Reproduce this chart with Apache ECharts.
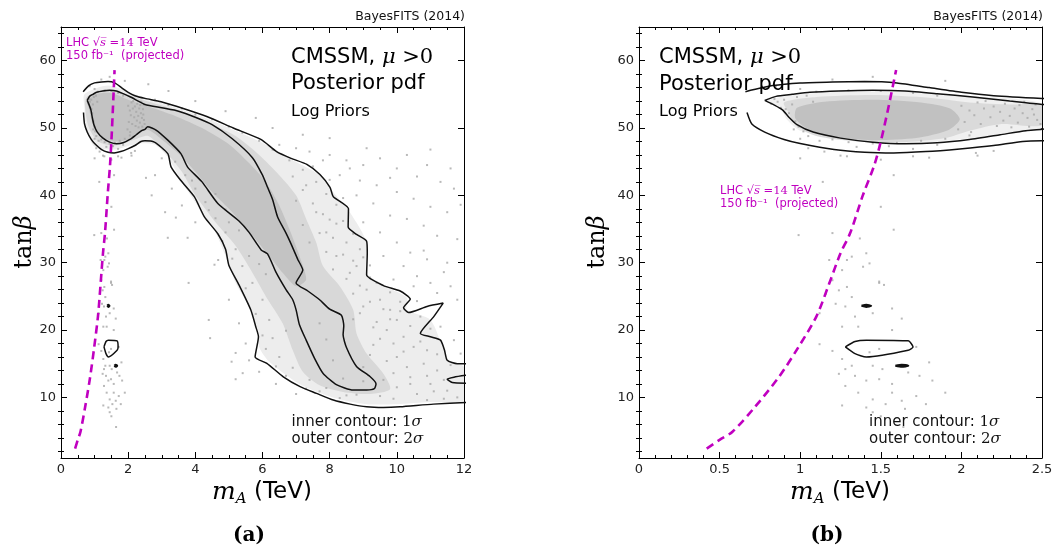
<!DOCTYPE html>
<html>
<head>
<meta charset="utf-8">
<script src="https://cdn.jsdelivr.net/npm/echarts@6/dist/echarts.min.js"></script>
<style>
  html, body { margin: 0; padding: 0; background: #fff; }
  #chart { width: 1056px; height: 550px; }
</style>
</head>
<body>
<div id="chart"></div>
<script>
// ---- axis ticks ----
const xTicksA = [0, 2, 4, 6, 8, 10, 12];
const xTicksB = [0, 0.5, 1, 1.5, 2, 2.5];
const yMajorTicks = [10, 20, 30, 40, 50, 60];
const yMinorTicks = [2, 4, 6, 8, 12, 14, 16, 18, 22, 24, 26, 28, 32, 34, 36, 38, 42, 44, 46, 48, 52, 54, 56, 58, 62, 64];

// ---- posterior samples (m_A in TeV, tan beta) ----
const posteriorSamples = [
  // around the main high-tan-beta island
  [0.82,53.6],[0.86,53.9],[0.9,54.2],[0.88,53.0],[0.95,53.5],[0.93,52.2],[0.97,51.0],[0.99,50.2],[1.02,49.5],[1.05,48.8],
  [0.98,54.6],[1.04,54.8],[1.08,53.9],[0.84,54.3],[0.91,52.8],[0.96,49.8],[1.0,48.4],[1.12,48.1],
  [2.0,53.3],[2.05,52.6],[2.08,51.9],[2.1,53.8],[2.14,52.9],[2.18,51.6],[2.2,53.2],[2.24,52.4],[2.27,53.6],[2.3,51.8],
  [2.33,52.9],[2.36,53.4],[2.38,52.2],[2.41,51.5],[2.44,52.8],[2.47,51.2],[2.49,50.6],[2.46,53.5],[2.12,50.6],[2.22,50.3],
  [2.02,50.9],[1.98,49.8],[2.15,54.0],[2.35,50.8],[2.42,50.2],[2.26,51.1],[2.39,53.9],[2.31,50.1],[2.45,52.0],[2.06,49.4],
  [1.2,48.3],[1.3,47.9],[1.45,47.7],[1.6,47.8],[1.75,48.1],[1.9,48.4],[1.35,47.2],[1.55,47.3],[1.05,47.0],[1.85,47.5],
  [1.7,46.9],[2.05,48.9],[1.15,46.5],[1.25,45.9],[1.5,45.3],[1.8,45.6],[2.1,45.9],[2.2,46.6],
  [1.1,55.4],[1.3,55.6],[1.5,55.5],[1.7,55.2],[1.85,54.8],[1.2,57.2],[1.45,57.6],[1.9,57.0],[1.0,55.8],[0.85,56.2],
  // low tan-beta tail below the island
  [1.0,45.5],[1.29,45.8],[1.58,43.0],[1.7,45.8],[2.09,46.3],[1.5,38.3],[1.58,34.9],[1.2,34.4],[1.37,33.6],[1.14,42.0],
  [0.99,34.1],[1.29,30.4],[1.39,29.4],[1.49,27.2],[1.29,26.4],[1.18,30.4],[1.26,28.9],[1.32,30.9],[1.41,31.4],[1.43,29.9],
  [1.49,27.0],[1.52,26.7],[1.2,27.4],[1.24,25.9],[1.16,25.4],[1.32,24.9],[1.22,23.9],[1.28,23.5],[1.45,22.5],[1.57,23.2],
  [1.63,21.7],[1.12,22.5],[1.34,22.0],[1.26,20.5],[1.36,20.5],[1.57,20.0],[1.12,17.9],[1.2,16.9],[1.26,15.7],[1.32,14.7],
  [1.28,14.2],[1.45,14.7],[1.51,14.2],[1.24,13.5],[1.34,13.2],[1.41,12.5],[1.49,12.7],[1.57,12.0],[1.67,13.7],[1.74,13.2],
  [1.82,12.5],[1.9,10.7],[1.36,10.7],[1.45,9.7],[1.53,9.0],[1.63,9.5],[1.72,10.2],[1.78,9.0],[1.26,8.8],[1.41,8.5],
  [1.28,11.7],[1.57,10.7],[1.65,8.3],[1.43,16.7],[1.49,17.2],[1.72,17.5],[1.8,15.2],[1.64,5.6],[1.5,7.2],[1.45,7.8],
  // upper edge of the band
  [2.53,42.6],[2.8,54.2],[3.2,53.4],[3.6,52.9],[4.0,52.0],[4.5,51.3],[5.0,50.2],[5.4,49.3],[5.9,48.1],[6.3,46.8],
  [6.8,45.2],[7.2,43.8],[7.6,42.0],[7.9,40.2],[8.2,38.6],[8.4,36.2],[8.7,34.3],[8.9,32.0],[8.8,29.5],[9.2,27.8],
  [9.8,25.6],[10.1,24.2],
  // lower-left edge of the band
  [3.4,45.0],[3.7,43.0],[4.0,41.0],[4.3,39.0],[4.6,36.6],[4.9,34.5],[5.2,32.0],[5.4,29.5],[5.7,27.0],[6.0,24.5],
  [6.2,21.5],[6.3,18.8],[6.5,16.0],[6.9,14.4],[7.4,12.6],[7.9,11.4],[8.5,10.3],[6.1,28.3],[5.6,31.0],[5.3,34.8],
  [4.9,37.9],[4.6,40.2],[6.7,19.9],[6.0,19.2],[6.7,13.2],[7.3,11.3],[5.9,29.8],[5.0,36.0],
  [3.18,33.7],[3.77,33.7],[3.42,36.7],[4.57,29.7],[4.44,18.8],[5.08,15.3],[4.68,30.4],[5.2,12.7],[5.41,13.6],
  [3.0,45.5],[2.8,43.0],[3.3,41.0],[3.6,38.5],[2.7,40.0],[4.0,36.0],[3.1,37.5],
  [5.0,24.5],[5.3,21.0],[5.5,18.0],[4.4,21.5],[5.6,15.5],[5.9,13.8],[6.4,12.0],[7.0,10.5],[5.2,16.6],[3.8,27.0],
  [3.9,42.2],[4.4,37.8],[4.8,33.2],[5.1,30.6],[5.5,26.2],[5.8,22.4],[6.1,17.2],[6.4,14.6],[7.7,10.9],[8.3,9.9],
  // between the contours on the right
  [6.9,42.8],[7.3,41.5],[7.0,39.2],[7.5,38.8],[7.8,37.2],[7.2,35.6],[7.7,34.4],[8.1,33.7],[8.2,35.8],[7.4,33.0],
  [7.9,31.6],[8.4,31.2],[8.7,30.3],[8.1,29.0],[8.5,27.6],[8.9,26.6],[8.7,25.4],[9.2,24.2],[9.6,23.1],[9.0,23.5],
  [8.7,21.6],[9.3,20.4],[9.8,21.6],[9.5,18.7],[9.2,16.3],[9.7,15.4],[10.2,16.8],[9.9,13.6],[10.4,12.0],[10.9,13.2],
  [11.4,12.6],[11.6,14.8],[11.2,16.4],[10.7,18.3],[11.0,20.2],[10.4,20.6],[10.1,22.8],
  [9.5,24.5],[9.8,23.0],[10.0,21.5],[9.7,20.0],[10.2,19.0],[10.5,17.5],[10.0,16.0],[10.8,15.0],[11.2,14.0],[10.4,13.0],
  [11.0,12.0],[10.0,11.5],[10.6,10.5],[11.5,11.0],[11.8,10.0],[9.5,10.2],[9.0,14.5],[9.3,17.8],[9.4,21.2],[8.9,22.5],
  [9.1,26.0],[8.6,28.5],[8.2,31.0],[7.9,34.5],[7.6,37.5],[7.2,40.8],[9.9,18.0],[10.7,22.0],[11.3,20.5],[11.7,18.5],
  [11.9,16.5],[10.3,14.5],[9.6,12.6],[8.8,10.4],[11.4,9.8],[10.9,9.6],
  [7.5,44.3],[8.0,42.3],[8.4,39.6],[8.0,36.4],[8.5,33.0],[9.0,30.8],[9.4,27.0],[10.6,24.3],[10.9,17.0],[11.1,10.9],
  [9.0,12.4],[9.9,9.8],[8.4,12.8],[8.1,15.5],[7.9,18.6],[7.7,21.0],
  // sparse samples beyond the outer contour
  [6.5,47.5],[7.0,47.0],[7.4,46.5],[8.0,46.0],[8.5,45.2],[9.0,44.5],[9.5,45.5],[10.0,44.0],[10.6,42.8],[11.3,42.0],
  [11.7,41.0],[8.3,43.0],[8.9,42.2],[9.4,41.5],[10.0,40.5],[10.5,39.5],[11.0,38.3],[11.5,37.5],[8.8,40.0],[9.3,38.8],
  [9.8,37.0],[10.3,36.5],[10.8,35.5],[11.2,34.0],[11.8,33.5],[9.0,36.0],[9.5,34.5],[10.0,33.0],[10.4,31.5],[10.9,30.5],
  [11.5,30.0],[9.6,31.0],[10.2,29.5],[10.6,28.0],[11.0,27.0],[11.6,26.5],[9.9,27.5],[10.5,26.5],[11.2,25.5],[11.8,24.5],
  [10.8,31.8],[11.4,28.6],[9.2,29.6],[7.8,45.2],[8.6,44.0],[9.8,42.6],[10.9,44.5],[9.1,47.0],[10.3,46.0],[11.0,46.8],
  [8.0,48.5],[7.2,49.0],[6.3,50.0],[5.8,51.5],[4.9,52.5],[4.0,54.0],[3.2,55.5],[2.6,56.5],[11.9,38.6],[11.6,44.0]
];

// ---- contours of the marginal posterior ----
const outerUpper = [
  [0.66,55.4],[0.83,56.3],[1.0,56.7],[1.2,56.85],[1.4,56.9],[1.6,56.7],[1.8,56.0],[2.0,55.3],[2.2,54.8],[2.5,54.4],
  [2.98,53.9],[3.64,52.9],[4.34,51.7],[5.13,50.0],[5.95,48.3],[6.42,46.5],[6.85,45.5],[7.32,44.6],[7.71,43.1],[8.01,41.2],
  [8.11,39.8],[8.56,38.0],[8.55,35.3],[8.8,34.2],[9.1,33.2],[9.12,31.5],[9.1,28.2],[9.6,26.6],[10.1,25.8],[10.4,24.6],
  [10.2,23.3],[10.35,22.6],[10.9,23.5],[11.38,24.0],[11.1,22.0],[10.7,19.5],[11.0,19.0],[11.3,18.5],[11.42,17.0],[11.5,15.5],
  [11.8,15.0],[12.1,15.0]
];
const outerLower = [
  [0.67,52.3],[0.7,50.6],[0.78,49.4],[0.9,48.3],[1.0,47.7],[1.21,46.8],[1.4,46.4],[1.58,46.3],[1.78,46.5],[1.99,46.9],
  [2.2,47.4],[2.38,48.0],[2.5,48.1],[2.78,47.9],[3.18,46.2],[3.28,44.2],[3.57,42.2],[3.97,39.8],[4.27,36.8],[4.67,34.3],
  [4.9,32.0],[5.0,29.6],[5.3,26.7],[5.65,23.0],[5.8,20.5],[5.88,19.0],[5.78,16.0],[6.13,15.05],[6.62,13.06],[7.12,11.6],
  [7.61,10.6],[8.11,9.6],[8.61,9.0],[9.1,8.6],[9.6,8.5],[10.1,8.6],[11.09,9.0],[12.1,9.25]
];
const outerEdgePiece = [[12.1,13.3],[11.7,13.0],[11.5,12.7],[11.65,12.2],[12.1,12.1]];
const innerContour = [
  [0.78,54.1],[0.85,54.7],[0.95,55.0],[1.06,55.3],[1.24,55.5],[1.45,55.6],[1.65,55.5],[1.85,55.1],[2.07,54.6],[2.3,54.0],
  [2.5,53.5],[3.0,53.0],[3.5,52.5],[4.0,51.6],[4.5,50.5],[5.1,48.4],[5.7,45.6],[6.0,43.0],[6.15,41.2],[6.3,39.4],
  [6.45,36.8],[6.7,34.4],[6.85,32.8],[7.05,30.5],[7.2,28.9],[7.0,27.0],[7.35,25.8],[7.7,24.5],[8.0,23.1],[8.35,22.2],
  [8.42,20.6],[8.4,19.3],[8.5,17.4],[8.8,14.6],[9.2,13.1],[9.38,12.0],[9.33,11.3],[9.1,11.1],[8.7,11.1],[8.2,11.9],
  [7.8,13.6],[7.55,15.8],[7.3,18.5],[7.1,20.8],[7.0,23.0],[6.9,24.5],[6.7,26.0],[6.4,28.6],[6.15,31.3],[5.96,31.9],
  [5.6,34.5],[5.3,36.2],[4.67,38.8],[4.2,42.0],[3.77,44.2],[3.57,46.2],[3.18,48.2],[2.83,49.7],[2.58,50.2],[2.5,49.8],
  [2.4,49.6],[2.24,49.0],[2.05,48.3],[1.85,47.8],[1.65,47.65],[1.45,47.9],[1.25,48.5],[1.08,49.4],[0.98,50.5],[0.93,51.6],
  [0.89,52.7],[0.84,53.4],[0.78,54.1]
];
const islandContour = [[1.28,17.5],[1.34,18.3],[1.41,18.5],[1.67,18.4],[1.70,17.5],[1.67,17.0],[1.41,16.0],[1.34,16.5],[1.28,17.5]];
const speckUpper = [[1.38,23.6],[1.41,23.75],[1.44,23.6],[1.41,23.45],[1.38,23.6]];
const speckLower = [[1.59,14.7],[1.63,14.85],[1.67,14.7],[1.63,14.55],[1.59,14.7]];

// ---- projected LHC 14 TeV, 150/fb reach ----
const lhcReach = [
  [0.42,2.4],[0.5,3.7],[0.58,4.9],[0.72,8.6],[0.87,13.1],[0.99,17.5],[1.10,22.0],[1.18,26.9],[1.25,31.4],[1.31,34.4],
  [1.39,40.1],[1.46,44.5],[1.5,48.0],[1.545,52.8],[1.595,58.6]
];

// ---- sample-density shading, panel (a) ----
const shadeLightA = [
  [0.7,55.0],[1.4,56.3],[2.2,55.0],[3.0,53.7],[4.3,51.5],[5.2,49.6],[6.0,47.8],[6.9,45.2],[7.7,43.0],[8.1,40.5],
  [8.6,37.5],[9.1,33.0],[9.1,28.5],[9.7,26.4],[10.3,24.8],[10.3,23.0],[11.0,21.5],[11.4,17.0],[11.6,15.2],[12.0,14.5],
  [12.0,9.6],[11.0,9.3],[10.0,9.0],[9.1,9.0],[8.1,10.0],[7.1,12.0],[6.2,15.3],[5.9,17.5],[5.9,19.5],[5.6,23.5],
  [5.2,27.0],[4.9,31.0],[4.6,34.5],[4.2,37.5],[3.6,42.0],[3.2,45.5],[2.8,47.5],[2.3,47.7],[1.6,46.8],[1.0,47.2],
  [0.75,50.0],[0.7,53.0]
];
const shadeMidA = [
  [0.75,54.5],[1.4,55.6],[2.3,54.4],[3.3,52.9],[4.3,51.0],[5.2,48.8],[5.9,46.0],[6.5,43.0],[7.0,40.0],[7.3,36.5],
  [7.6,33.0],[7.8,29.5],[8.3,26.5],[8.7,23.0],[8.8,19.5],[9.1,16.5],[9.6,13.5],[9.8,11.2],[9.2,10.5],[8.4,10.8],
  [7.7,11.8],[7.2,13.8],[6.9,17.0],[6.6,21.0],[6.1,25.0],[5.7,28.5],[5.2,32.5],[4.6,36.0],[4.0,40.0],[3.6,43.5],
  [3.1,46.5],[2.6,48.8],[2.2,48.3],[1.6,47.4],[1.1,48.0],[0.8,50.5]
];
const shadeDenseA = [
  [0.8,54.0],[1.0,55.0],[1.5,55.2],[2.0,54.2],[2.6,53.2],[3.4,51.8],[4.2,50.0],[5.0,47.6],[5.6,44.8],[6.1,42.0],
  [6.5,38.5],[6.8,35.0],[7.1,31.0],[7.3,27.5],[7.0,26.5],[6.6,28.5],[6.2,31.0],[5.7,34.0],[5.1,37.5],[4.5,40.5],
  [4.0,43.5],[3.5,46.2],[3.0,48.3],[2.6,49.7],[2.3,49.2],[2.0,48.3],[1.6,48.0],[1.2,48.7],[0.95,50.5],[0.85,52.5]
];

// ---- sample-density shading, panel (b) ----
const shadeLightB = [
  [0.79,54.0],[0.95,54.9],[1.24,55.4],[1.65,55.4],[2.07,54.7],[2.5,53.6],[2.5,50.0],[2.27,49.2],[2.07,48.5],[1.86,48.0],
  [1.65,47.7],[1.24,48.6],[1.0,49.6],[0.92,51.2],[0.87,53.2]
];
const shadeMidB = [
  [0.9,53.8],[1.1,54.6],[1.45,54.9],[1.8,54.5],[2.05,53.8],[2.3,53.5],[2.5,53.3],[2.5,50.4],[2.25,50.6],[2.05,49.6],
  [1.9,48.5],[1.65,47.9],[1.35,48.0],[1.1,48.8],[0.97,50.4],[0.93,52.2]
];
const shadeDenseB = [
  [0.98,53.0],[1.15,53.9],[1.45,54.2],[1.75,53.8],[1.93,52.9],[1.99,51.3],[1.92,49.7],[1.72,48.5],[1.45,48.2],[1.2,48.7],
  [1.05,49.8],[0.97,51.4]
];

const SANS = 'DejaVu Sans';
const SERIF = 'DejaVu Serif';
const INK = '#111';
const MAGENTA = '#c000c0';

const panels = [
  { left: 61, xMax: 12, interval: 2, minorSplit: 4, xLabels: xTicksA,
    shades: [[shadeLightA, '#ededed'], [shadeMidA, '#d8d8d8'], [shadeDenseA, '#c3c3c3']] },
  { left: 639, xMax: 2.5, interval: 0.5, minorSplit: 5, xLabels: xTicksB,
    shades: [[shadeLightB, '#f0f0f0'], [shadeMidB, '#dadada'], [shadeDenseB, '#c1c1c1']] }
];
const PLOT_TOP = 27, PLOT_W = 403, PLOT_H = 431;

const grid = [], xAxis = [], yAxis = [], series = [];

panels.forEach((p, g) => {
  grid.push({ left: p.left, top: PLOT_TOP, width: PLOT_W, height: PLOT_H, show: false });

  ['bottom', 'top'].forEach(pos => {
    xAxis.push({
      type: 'value', gridIndex: g, position: pos, min: 0, max: p.xMax, interval: p.interval,
      axisLine: { show: true, onZero: false, lineStyle: { color: '#000', width: 1 } },
      axisTick: { show: true, inside: true, length: 6, lineStyle: { color: '#000' } },
      minorTick: { show: true, splitNumber: p.minorSplit, length: 3, lineStyle: { color: '#000' } },
      axisLabel: { show: pos === 'bottom', customValues: p.xLabels, fontFamily: SANS, fontSize: 13, color: '#222', margin: 5 },
      splitLine: { show: false }, minorSplitLine: { show: false }
    });
  });

  ['left', 'right'].forEach(pos => {
    yAxis.push({
      type: 'value', gridIndex: g, position: pos, min: 1, max: 65,
      axisLine: { show: true, onZero: false, lineStyle: { color: '#000', width: 1 } },
      axisTick: { show: true, inside: true, length: 6, customValues: yMajorTicks, lineStyle: { color: '#000' } },
      axisLabel: { show: pos === 'left', customValues: yMajorTicks, fontFamily: SANS, fontSize: 13, color: '#222', margin: 5 },
      splitLine: { show: false }
    });
    yAxis.push({
      type: 'value', gridIndex: g, position: pos, min: 1, max: 65,
      axisLine: { show: false },
      axisTick: { show: true, inside: true, length: 3, customValues: yMinorTicks, lineStyle: { color: '#000' } },
      axisLabel: { show: false },
      splitLine: { show: false }
    });
  });

  const xi = 2 * g, yi = 4 * g;

  // density shading
  p.shades.forEach(([pts, color]) => {
    series.push({
      type: 'custom', xAxisIndex: xi, yAxisIndex: yi, clip: true, silent: true, z: 1,
      data: [pts[0]],
      renderItem: (params, api) => ({
        type: 'polygon',
        shape: { points: pts.map(v => api.coord(v)), smooth: 0.25 },
        style: { fill: color }
      })
    });
  });

  // individual samples
  series.push({
    type: 'scatter', xAxisIndex: xi, yAxisIndex: yi, data: posteriorSamples, clip: true, silent: true, z: 2,
    symbol: 'rect', symbolSize: 2, itemStyle: { color: '#a8a8a8' }
  });

  // contours
  [outerUpper, outerLower, outerEdgePiece, innerContour, islandContour, speckUpper, speckLower].forEach((pts, k) => {
    series.push({
      type: 'line', xAxisIndex: xi, yAxisIndex: yi, data: pts, clip: true, silent: true, z: 3,
      symbol: 'none', smooth: 0.2,
      lineStyle: { color: INK, width: k >= 5 ? 2.2 : 1.5 }
    });
  });

  // LHC reach
  series.push({
    type: 'line', xAxisIndex: xi, yAxisIndex: yi, data: lhcReach, clip: true, silent: true, z: 4,
    symbol: 'none', smooth: 0.3,
    lineStyle: { color: MAGENTA, width: 2.6, type: [8, 5] }
  });
});

// ---- text ----
function txt(x, y, text, rich, opts) {
  return Object.assign({
    type: 'text', x: x, y: y, silent: true, z: 10,
    style: { text: text, rich: rich, align: 'left', verticalAlign: 'middle', fill: '#000' }
  }, opts || {});
}
function alignText(el, align) { el.style.align = align; return el; }

const titleRich = {
  s: { fontFamily: SANS, fontSize: 21, fill: '#000' },
  m: { fontFamily: SERIF, fontStyle: 'italic', fontSize: 21, fill: '#000' },
  r: { fontFamily: SERIF, fontSize: 21, fill: '#000' },
  l: { fontFamily: SANS, fontSize: 16, fill: '#000' }
};
const noteRich = {
  s: { fontFamily: SANS, fontSize: 15, fill: '#111' },
  r: { fontFamily: SERIF, fontSize: 15, fill: '#111' },
  m: { fontFamily: SERIF, fontStyle: 'italic', fontSize: 15, fill: '#111' }
};
const lhcRich = {
  s: { fontFamily: SANS, fontSize: 11.5, fill: MAGENTA },
  r: { fontFamily: SERIF, fontSize: 11.5, fill: MAGENTA },
  m: { fontFamily: SERIF, fontStyle: 'italic', fontSize: 11.5, fill: MAGENTA }
};
const axisRich = {
  m: { fontFamily: SERIF, fontStyle: 'italic', fontSize: 25, lineHeight: 30, verticalAlign: 'middle', fill: '#000' },
  a: { fontFamily: SERIF, fontStyle: 'italic', fontSize: 15, lineHeight: 30, verticalAlign: 'bottom', fill: '#000' },
  t: { fontFamily: SANS, fontSize: 23, lineHeight: 30, verticalAlign: 'middle', fill: '#000' },
  r: { fontFamily: SERIF, fontSize: 24, fill: '#000' },
  b: { fontFamily: SERIF, fontStyle: 'italic', fontSize: 24, fill: '#000' },
  p: { fontFamily: SERIF, fontWeight: 'bold', fontSize: 20, fill: '#000' }
};
const creditRich = { c: { fontFamily: SANS, fontSize: 12.5, fill: '#111' } };

const textSpots = [
  { title: [291, 57.5], log: [291, 111.5], note: [291.5, 422], lhc: [66, 43.5], credit: 465, axisX: 262, tanX: 25, tag: [249, '(a)'] },
  { title: [659, 58], log: [659, 112], note: [869, 422], lhc: [720, 191], credit: 1043, axisX: 840, tanX: 598, tag: [827, '(b)'] }
];

const graphic = [];
textSpots.forEach(t => {
  graphic.push(txt(t.title[0], t.title[1], '{s|CMSSM, }{m|μ}{r| >0}', titleRich));
  graphic.push(txt(t.title[0], t.title[1] + 26.5, '{s|Posterior pdf}', titleRich));
  graphic.push(txt(t.log[0], t.log[1], '{l|Log Priors}', titleRich));
  graphic.push(txt(t.note[0], t.note[1], '{s|inner contour: }{r|1}{m|σ}', noteRich));
  graphic.push(txt(t.note[0], t.note[1] + 16.7, '{s|outer contour: }{r|2}{m|σ}', noteRich));
  graphic.push(txt(t.lhc[0], t.lhc[1], '{s|LHC }{r|√}{m|s̅}{r| =14 }{s|TeV}', lhcRich));
  graphic.push(txt(t.lhc[0], t.lhc[1] + 12.6, '{s|150 fb⁻¹  (projected)}', lhcRich));
  graphic.push(alignText(txt(t.credit, 17, '{c|BayesFITS (2014)}', creditRich), 'right'));
  graphic.push(alignText(txt(t.axisX, 492, '{m|m}{a|A}{t| (TeV)}', axisRich), 'center'));
  graphic.push(alignText(txt(t.tanX, 242, '{r|tan}{b|β}', axisRich, { rotation: Math.PI / 2 }), 'center'));
  graphic.push(alignText(txt(t.tag[0], 536, '{p|' + t.tag[1] + '}', axisRich), 'center'));
});

const chart = echarts.init(document.getElementById('chart'), null, { renderer: 'canvas' });
chart.setOption({
  animation: false,
  backgroundColor: '#fff',
  grid: grid,
  xAxis: xAxis,
  yAxis: yAxis,
  series: series,
  graphic: graphic
});
</script>
</body>
</html>
